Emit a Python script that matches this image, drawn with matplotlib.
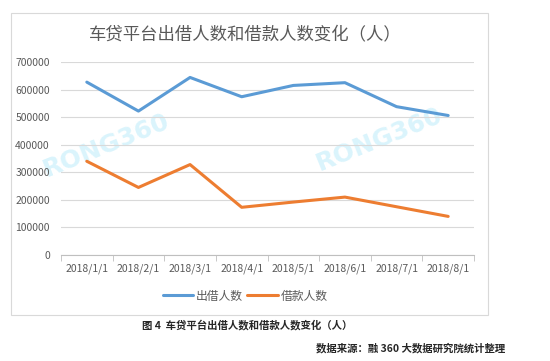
import matplotlib.pyplot as plt
from matplotlib.patches import Rectangle

plt.rcParams['font.family'] = ['Noto Sans CJK SC', 'DejaVu Sans']

months = ["2018/1/1", "2018/2/1", "2018/3/1", "2018/4/1",
          "2018/5/1", "2018/6/1", "2018/7/1", "2018/8/1"]
lenders = [627000, 522000, 644000, 574000, 615000, 625000, 538000, 506000]
borrowers = [340000, 245000, 328000, 173000, 192000, 210000, 175000, 140000]

fig = plt.figure(figsize=(5.5, 3.61), dpi=100)
fig.patch.set_facecolor("white")

# outer chart frame
fig.patches.append(Rectangle((11 / 550, 1 - 315 / 361), 477 / 550, 302 / 361,
                             transform=fig.transFigure, fill=False,
                             edgecolor="#d9d9d9", linewidth=0.8))

ax = fig.add_axes([61 / 550, 1 - 255 / 361, 413 / 550, 193 / 361])
x = list(range(len(months)))
ax.plot(x, lenders, color="#5B9BD5", linewidth=2.2, label="出借人数", solid_capstyle="round")
ax.plot(x, borrowers, color="#ED7D31", linewidth=2.2, label="借款人数", solid_capstyle="round")

ax.set_xlim(-0.5, len(months) - 0.5)
ax.set_ylim(0, 700000)
ax.set_yticks(range(0, 700001, 100000))
ax.set_yticklabels([str(v) for v in range(0, 700001, 100000)])
ax.set_xticks(x)
ax.set_xticklabels(months)
ax.set_xticks([i - 0.5 for i in range(len(months) + 1)], minor=True)
ax.tick_params(axis="x", which="major", length=0, pad=6, labelsize=7.5, colors="#595959")
ax.tick_params(axis="x", which="minor", length=4, color="#bfbfbf")
ax.tick_params(axis="y", length=0, pad=8, labelsize=7.5, colors="#595959")
ax.grid(axis="y", color="#d9d9d9", linewidth=0.8)
ax.set_axisbelow(True)
for s in ["top", "right", "left"]:
    ax.spines[s].set_visible(False)
ax.spines["bottom"].set_color("#bfbfbf")

# watermarks
for wx, wy in [(0.11, 0.57), (0.77, 0.6)]:
    ax.text(wx, wy, "RONG360", transform=ax.transAxes, fontsize=18, fontweight="bold",
            color="#daf4fc", rotation=22, ha="center", va="center", zorder=0,
            family="DejaVu Sans")

fig.text(245 / 550, 1 - 34 / 361, "车贷平台出借人数和借款人数变化（人）",
         ha="center", va="center", fontsize=12.5, color="#595959")

fig.legend(loc="center", bbox_to_anchor=(245 / 550, 1 - 296 / 361), ncol=2,
           frameon=False, fontsize=8.5, handlelength=2.6, handletextpad=0.2,
           columnspacing=0.4, labelcolor="#595959")

fig.text(247 / 550, 1 - 325 / 361, "图 4  车贷平台出借人数和借款人数变化（人）",
         ha="center", va="center", fontsize=7.5, fontweight="bold", color="#262626")
fig.text(505 / 550, 1 - 348 / 361, "数据来源：融 360 大数据研究院统计整理",
         ha="right", va="center", fontsize=7.5, fontweight="bold", color="#262626")

fig.savefig("out.png", dpi=100)
